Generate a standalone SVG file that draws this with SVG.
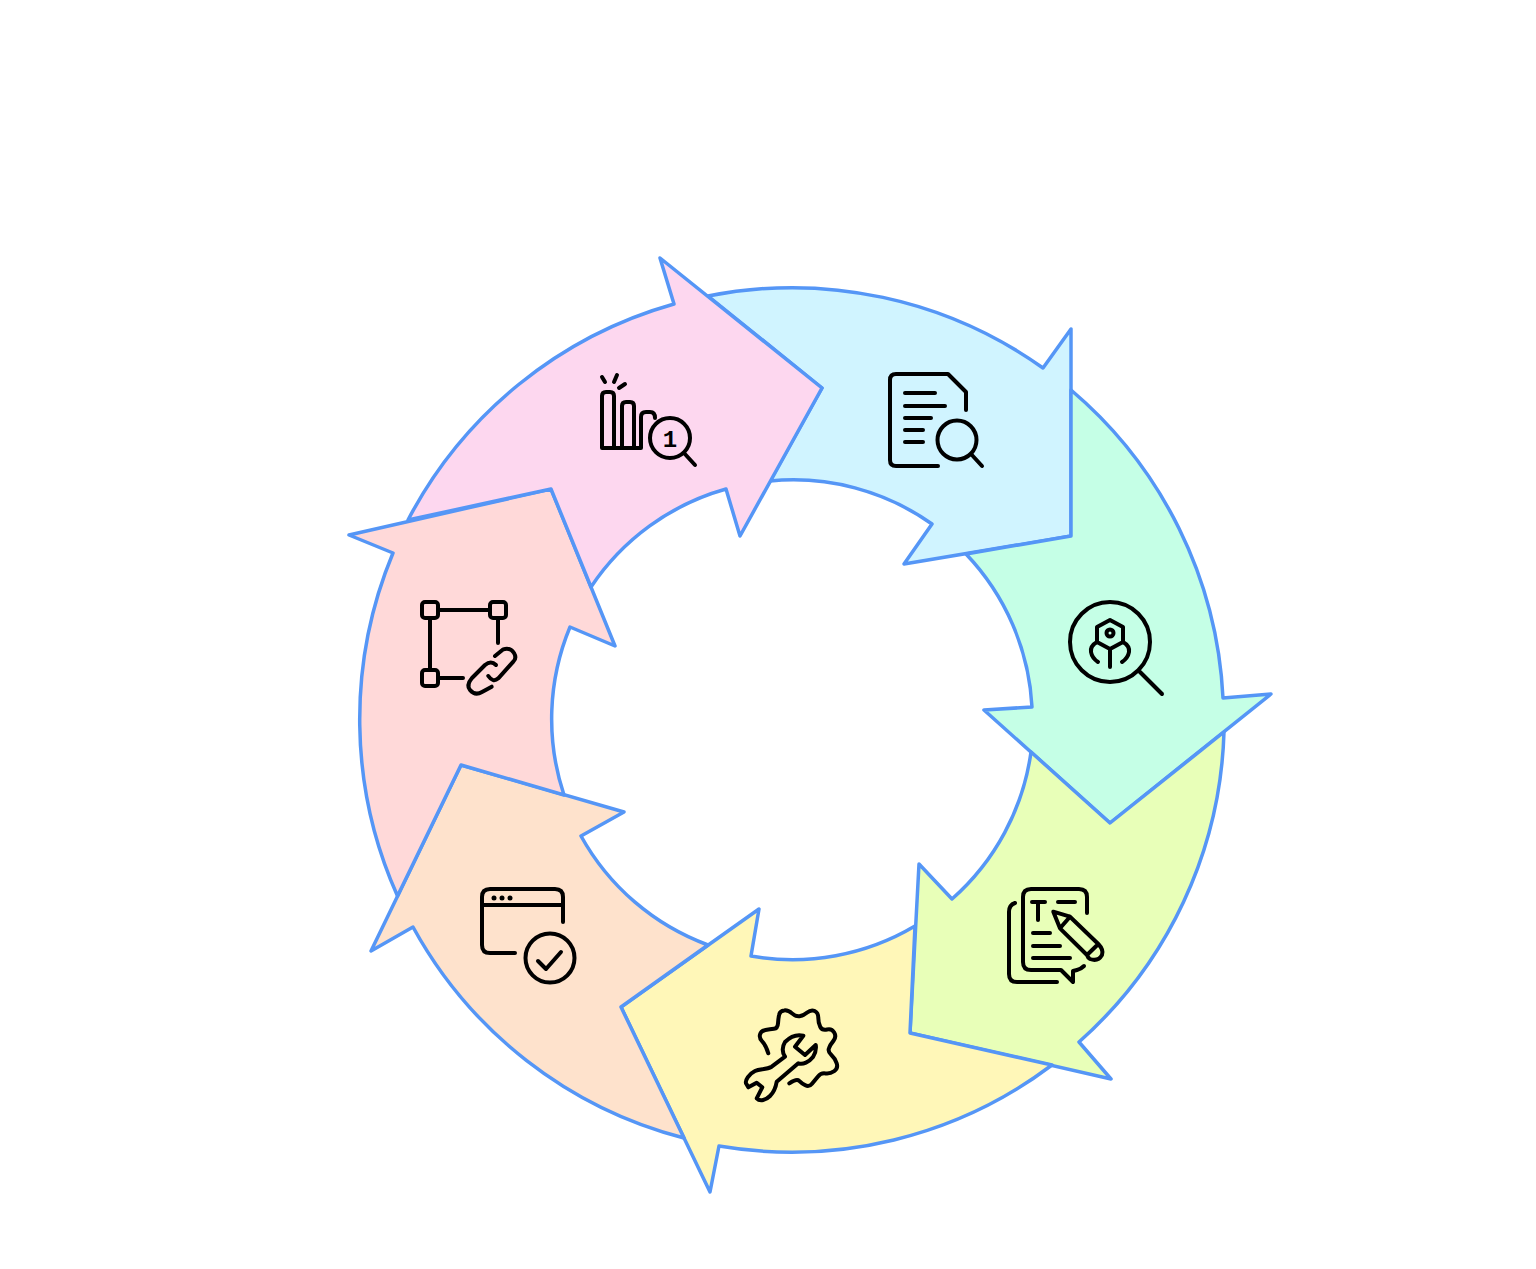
<svg xmlns="http://www.w3.org/2000/svg" width="1536" height="1269" viewBox="0 0 1536 1269">
<style>
.seg{stroke:#5596F6;stroke-width:3.5;stroke-linejoin:round}
.ic{fill:none;stroke:#000;stroke-width:4;stroke-linecap:round;stroke-linejoin:round}
.dot{fill:#000}
</style>
<rect width="1536" height="1269" fill="#fff"/>
<g id="connectors"></g>
<g id="node-blue">
<path class="seg" fill="#D0F4FF" d="M708 296A432 432 0 0 1 1043 368L1071 329L1071 536L904 564L932 524A240 240 0 0 0 770 481L822 388Z"/>
<g class="ic">
<path d="M938 466H896Q890 466 890 460V380Q890 374 896 374H948L966 392V410"/>
<path d="M905 393H935M905 406H945M905 418H931M905 430H923M905 442H923"/>
<circle cx="957" cy="440" r="19.5"/>
<path d="M971 454L982 466"/>
</g>
</g>
<g id="node-green">
<path class="seg" fill="#C5FFE6" d="M1071 390A432 432 0 0 1 1223 698L1271 694L1110 823L984 710L1032 707A240 240 0 0 0 966 554L1071 536Z"/>
<g class="ic">
<circle cx="1110" cy="642" r="40"/>
<path d="M1140 672L1162 694"/>
<path d="M1110 620L1123 627V642L1110 649L1097 642V627Z"/>
<circle cx="1110" cy="633" r="3.5"/>
<path d="M1110 649V667M1097 642Q1090 646 1091 652Q1092 658 1098 662M1123 642Q1130 646 1129 652Q1128 658 1122 662"/>
</g>
</g>
<g id="node-lime">
<path class="seg" fill="#E8FFB8" d="M1224 732A432 432 0 0 1 1079 1042L1111 1079L910 1033L919 864L952 899A240 240 0 0 0 1031 752L1110 823Z"/>
<g class="ic">
<path d="M1087 913V897Q1087 889 1079 889H1031Q1023 889 1023 897V962Q1023 970 1031 970H1061L1073 982V971L1077 970Q1081 969 1084 966"/>
<path d="M1015 903Q1009 905 1009 912V974Q1009 982 1017 982H1057"/>
<path d="M1032 902H1045M1038 902V920M1058 902H1075M1033 933H1050M1033 946H1060M1033 958H1070"/>
<path d="M1053.3 911.7L1070 916.7L1098.3 944Q1104 950 1102 955Q1098 962 1090 959Q1088 958 1087 955L1060 928.3ZM1070 916.7L1060 928.3M1098.3 944L1087 955"/>
</g>
</g>
<g id="node-yellow">
<path class="seg" fill="#FFF7B8" d="M1052 1065A432 432 0 0 1 719 1146L710 1192L621 1007L759 909L751 956A240 240 0 0 0 915 926L910 1033Z"/>
<g class="ic">
<path d="M768.3 1053.3Q765.7 1045 762.4 1041.7Q759 1038.3 760 1034.5Q761 1030.7 765.5 1030Q770 1029.3 773.9 1028.8Q777.7 1028.3 778 1023.3Q778.3 1018.3 779.2 1014.5Q780 1010.7 784.2 1010.4Q788.3 1010 792 1013.4Q795.7 1016.7 799.5 1016.2Q803.3 1015.7 807.2 1012.5Q811 1009.3 814.7 1011Q818.3 1012.7 818.3 1018Q818.3 1023.3 820.3 1027Q822.3 1030.7 827 1029.5Q831.7 1028.3 834.2 1032.5Q836.7 1036.7 833.4 1040.9Q830 1045 828.9 1048.4Q827.7 1051.7 831.4 1055Q835 1058.3 836.7 1063.3Q838.3 1068.3 834.2 1071.2Q830 1074 825.5 1073.4Q821 1072.7 818 1076.4Q815 1080 812 1083.7Q809 1087.3 805.4 1085.3Q801.7 1083.3 799.2 1080.8Q796.7 1078.3 789.3 1083.3"/>
<path d="M803.3 1035.7C796 1034 789 1038 785 1042C782 1047 782 1052 785 1056.7L771.7 1066.7C766 1070 760 1068.5 755 1071C749 1074 745 1080 746 1083.3L748.3 1087.3L756.7 1082.7L762.3 1087.3L756.7 1098.3C760 1102 766 1100 770 1096C775 1091 776 1086 776.7 1081.7L798.3 1063.3C803 1065 809 1062 813 1057C816 1052 816.5 1049 815.7 1045L805 1055L795 1046.7Z"/>
</g>
</g>
<g id="node-peach">
<path class="seg" fill="#FEE2CC" d="M684 1138A432 432 0 0 1 413 927L371 951L461 765L624 812L581 836A240 240 0 0 0 708 945L621 1007Z"/>
<g class="ic">
<path d="M515 953H490Q482 953 482 945V897Q482 889 490 889H555Q563 889 563 897V922M482 905H563"/>
<circle cx="550" cy="958" r="24.5"/>
<path d="M538 961L546 969L561 952"/>
</g>
<circle class="dot" cx="494" cy="898" r="2.5"/><circle class="dot" cx="502" cy="898" r="2.5"/><circle class="dot" cx="510" cy="898" r="2.5"/>
</g>
<g id="node-salmon">
<path class="seg" fill="#FFD9D9" d="M397.5 896A432 432 0 0 1 393 553L349 535L551 489L615 646L570 627A240 240 0 0 0 564 795L461 765Z"/>
<g class="ic">
<rect x="422" y="602" width="16" height="16" rx="3"/>
<rect x="490" y="602" width="16" height="16" rx="3"/>
<rect x="422" y="670" width="16" height="16" rx="3"/>
<path d="M438 610H490M430 618V670M498 618V643M438 678H463"/>
<path d="M495 656L503.3 649.3Q510 647 514 653Q517 658 513.3 661.7L498.3 678.3Q493 683 488.3 676"/>
<path d="M496 665Q491 660 485 665L472 678Q466 685 470 690Q475 696 482 692L491.7 686.7"/>
</g>
</g>
<g id="node-pink">
<path class="seg" fill="#FDD7EF" d="M408 520A432 432 0 0 1 674 304L660 258L822 388L740 536L726 489A240 240 0 0 0 591 587L551 489Z"/>
<g class="ic">
<path d="M602 448V396Q602 392 606 392H610Q614 392 614 396V448M622 448V406Q622 402 626 402H630Q634 402 634 406V448M641 448V417Q641 412 646 412H650Q655 412 655 418M602 448H641"/>
<path d="M602 377L605 382M617 375L614 382M625 384L619 388"/>
<circle cx="670" cy="438" r="20"/>
<path d="M684 453L695 465"/>
</g>
<text x="670" y="446.500" text-anchor="middle" font-family="Liberation Mono, monospace" font-weight="700" font-size="24">1</text>
</g>
</svg>
